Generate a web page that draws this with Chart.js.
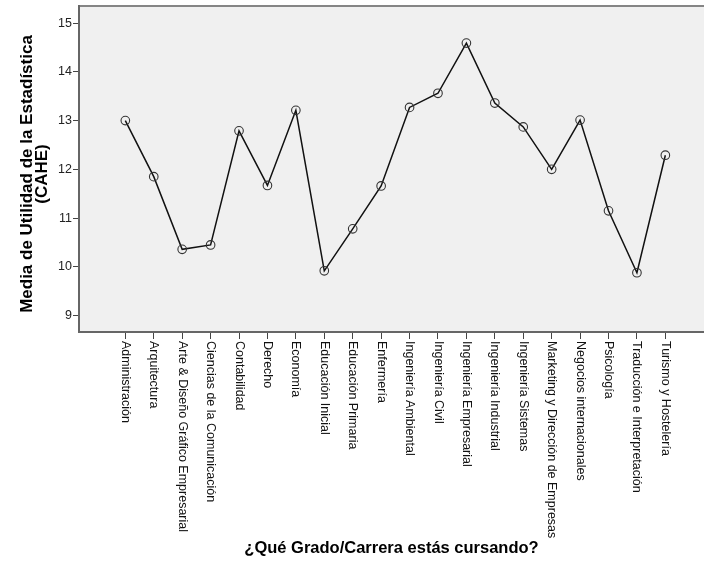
<!DOCTYPE html>
<html><head><meta charset="utf-8">
<script src="https://cdn.jsdelivr.net/npm/chart.js@4/dist/chart.umd.min.js"></script>
<style>html,body{margin:0;padding:0;background:#fff;}#wrap{width:704px;height:571px;}</style>
</head><body><div id="wrap"><canvas id="c" width="704" height="571"></canvas></div>
<script>
const categories = ['Administración','Arquitectura','Arte & Diseño Gráfico Empresarial','Ciencias de la Comunicación','Contabilidad','Derecho','Economía','Educación Inicial','Educación Primaria','Enfermería','Ingeniería Ambiental','Ingeniería Civil','Ingeniería Empresarial','Ingeniería Industrial','Ingeniería Sistemas','Marketing y Dirección de Empresas','Negocios internacionales','Psicología','Traducción e Interpretación','Turismo y Hostelería'];
const means = [13.00,11.85,10.36,10.45,12.79,11.67,13.21,9.92,10.78,11.66,13.27,13.56,14.59,13.36,12.87,12.00,13.01,11.15,9.88,12.29];
const yTicks = [9,10,11,12,13,14,15];
const yTitleLines = ['Media de Utilidad de la Estadística','(CAHE)'];
const xTitle = '¿Qué Grado/Carrera estás cursando?';

const FONT = '"Liberation Sans", Arial, sans-serif';

const plotBg = {
  id:'plotBg',
  beforeDraw(chart){
    const {ctx, chartArea:a} = chart;
    ctx.save();
    ctx.fillStyle = '#F0F0F0';
    ctx.fillRect(a.left, a.top, a.right-a.left, a.bottom-a.top);
    ctx.strokeStyle = '#858585';
    ctx.lineWidth = 2;
    ctx.beginPath(); ctx.moveTo(a.left, a.top); ctx.lineTo(a.right, a.top); ctx.stroke();
    ctx.restore();
  }
};

const labelsPlugin = {
  id:'vlabels',
  afterDraw(chart){
    const {ctx, chartArea:a} = chart;
    const xs = chart.scales.x;
    ctx.save();
    ctx.fillStyle = '#111';
    ctx.font = '12.5px ' + FONT;
    ctx.textAlign = 'left';
    ctx.textBaseline = 'middle';
    xs.ticks.forEach(t => {
      const x = xs.getPixelForValue(t.value);
      ctx.save();
      ctx.translate(x, a.bottom + 9);
      ctx.rotate(Math.PI/2);
      ctx.fillText(categories[t.value], 0, 0);
      ctx.restore();
    });
    // y axis title
    ctx.fillStyle = '#000';
    ctx.font = 'bold 17px ' + FONT;
    ctx.textAlign = 'center';
    ctx.textBaseline = 'alphabetic';
    ctx.translate(0, 174);
    ctx.rotate(-Math.PI/2);
    ctx.fillText(yTitleLines[0], 0, 32);
    ctx.fillText(yTitleLines[1], 0, 46.5);
    ctx.restore();
  }
};

new Chart(document.getElementById('c'), {
  type:'line',
  data:{
    datasets:[{
      data: means.map((v,i)=>({x:i, y:v})),
      borderColor:'#111',
      borderWidth:1.5,
      pointRadius:4.3,
      pointHoverRadius:4.3,
      pointBackgroundColor:'rgba(0,0,0,0)',
      pointBorderColor:'#333',
      pointBorderWidth:1.1,
      tension:0,
      clip:false
    }]
  },
  options:{
    responsive:false,
    animation:false,
    events:[],
    layout:{autoPadding:false, padding:{top:6,left:0,right:0,bottom:0}},
    plugins:{legend:{display:false},tooltip:{enabled:false}},
    scales:{
      x:{
        type:'linear',
        min:-1.63, max:20.36,
        afterBuildTicks:s=>{ s.ticks = categories.map((c,i)=>({value:i})); },
        afterFit:s=>{ s.height = 571-332; s.paddingLeft=0; s.paddingRight=0; },
        ticks:{display:false},
        grid:{display:true, drawOnChartArea:false, drawTicks:true, tickLength:7, color:'#444', lineWidth:1},
        border:{display:true, color:'#666', width:2},
        title:{display:true, text:xTitle, color:'#000', font:{family:FONT, size:16.5, weight:'bold'}, padding:{top:0,bottom:13}}
      },
      y:{
        type:'linear',
        min:8.665, max:15.35,
        afterBuildTicks:s=>{ s.ticks = yTicks.map(v=>({value:v})); },
        afterFit:s=>{ s.width = 79; s.paddingTop=0; s.paddingBottom=0; },
        ticks:{color:'#222', font:{family:FONT, size:12.5}, padding:1},
        grid:{display:true, drawOnChartArea:false, drawTicks:true, tickLength:6, color:'#444', lineWidth:1},
        border:{display:true, color:'#666', width:2}
      }
    }
  },
  plugins:[plotBg, labelsPlugin]
});
</script></body></html>
